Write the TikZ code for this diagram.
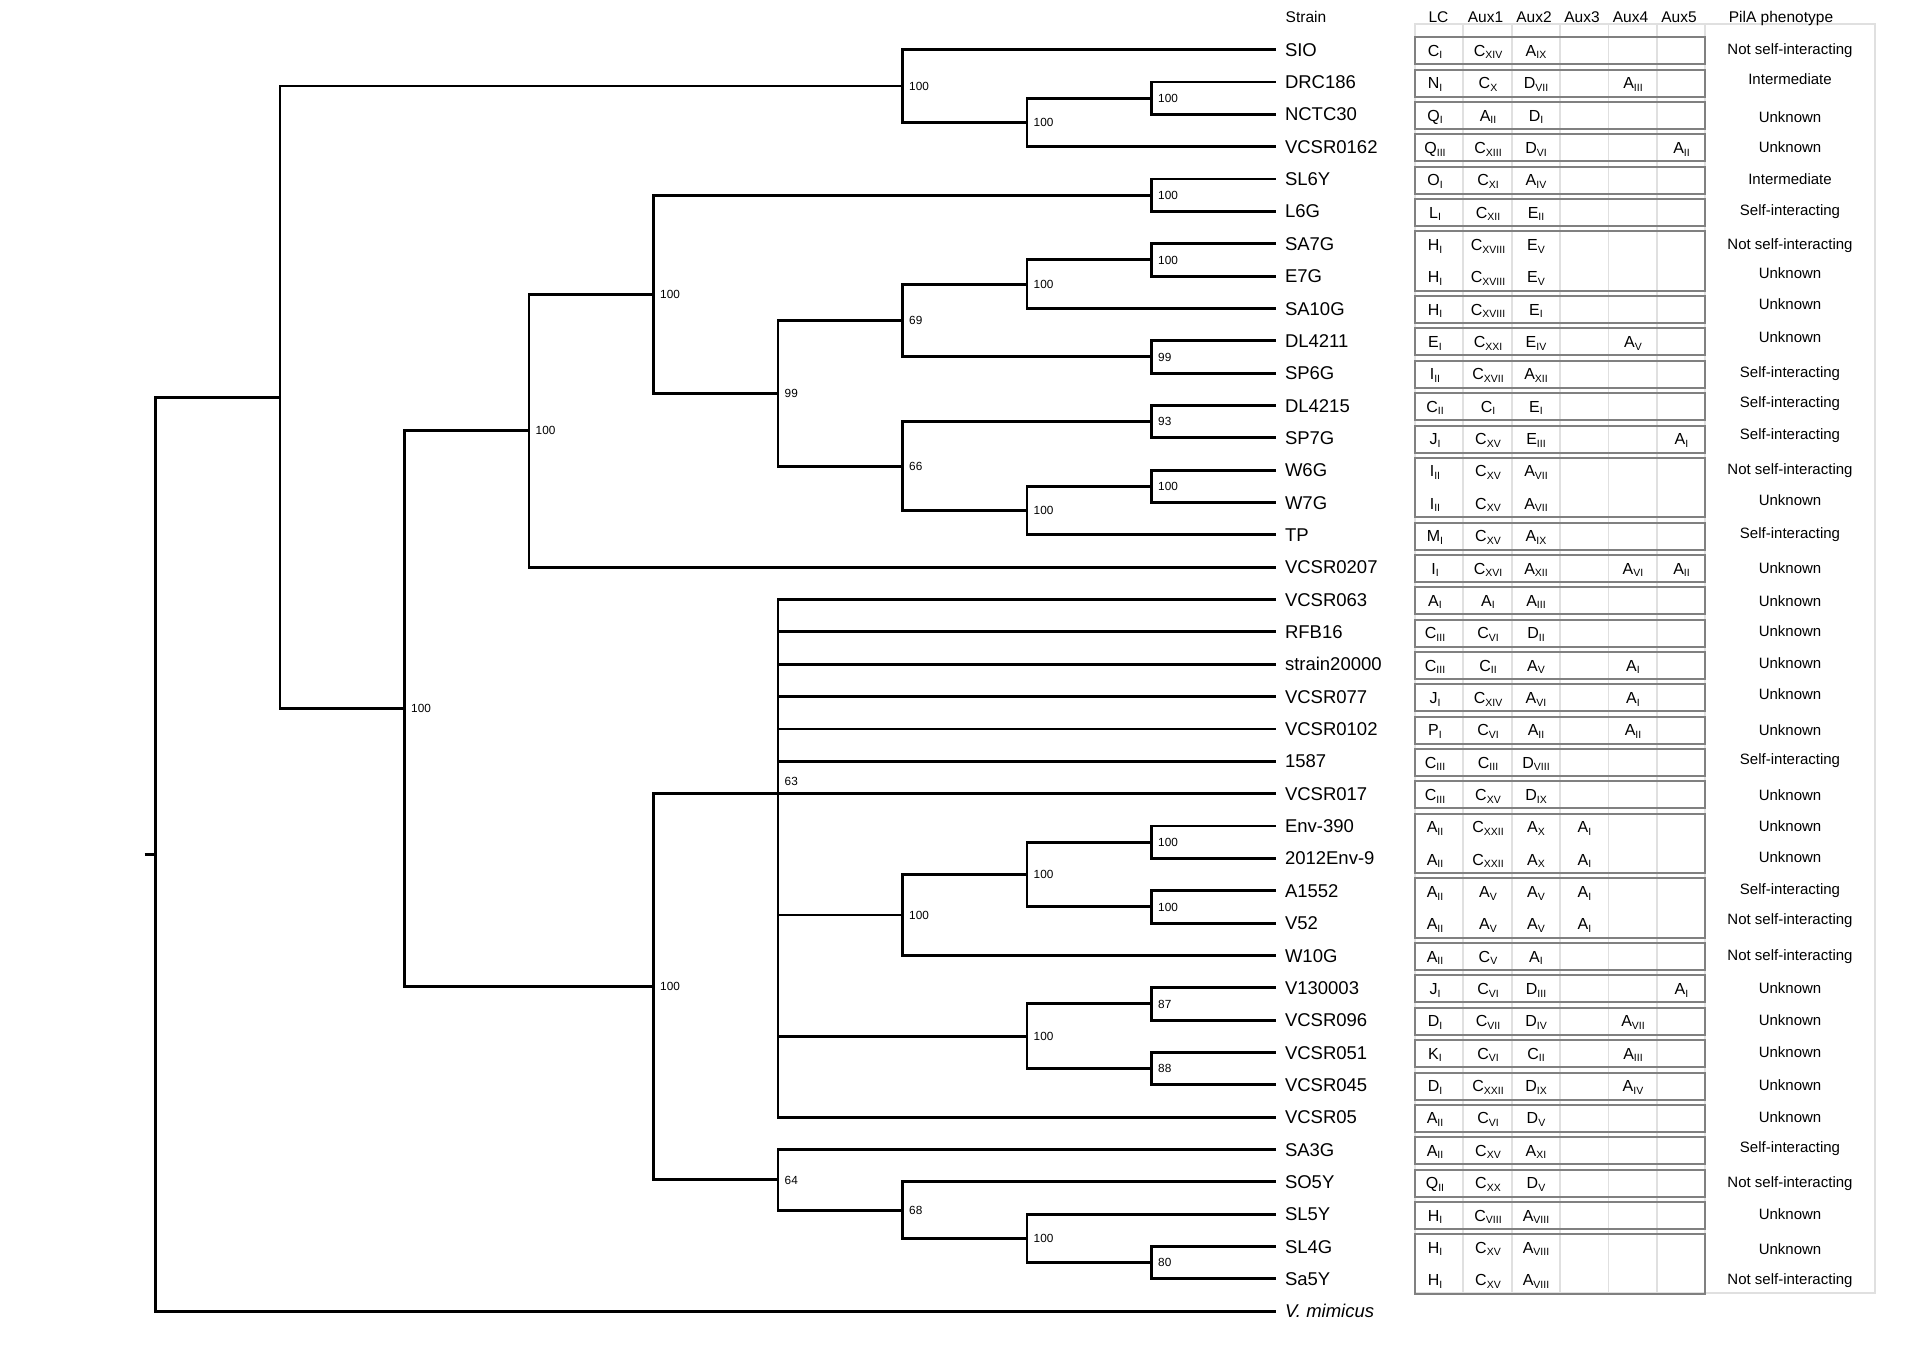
\documentclass[tikz,border=0pt]{standalone}
\usepackage{fontspec}
\setmainfont{Liberation Sans}
\newcommand\allele[2]{#1\raisebox{-2.6pt}{\fontsize{10.5}{10.5}\selectfont#2}}
\newcommand\onecell[4]{\if\relax\detokenize{#4}\relax\else\node[cell] (c#1-#2) at (#3,#1) {#4};\fi}
\newcommand\cells[7]{\onecell{#1}{1}{1435}{#2}\onecell{#1}{2}{1488}{#3}\onecell{#1}{3}{1536}{#4}\onecell{#1}{4}{1584.5}{#5}\onecell{#1}{5}{1633}{#6}\onecell{#1}{6}{1681.5}{#7}}
\newcommand\abox[2]{\draw[boxst] ([yshift=12.3pt]1415,#1) rectangle ([yshift=-14.7pt]1705,#2);}
\newcommand\pheno[3]{\node[phen,yshift=#2pt] (p#1) at (1790,#1) {#3};}
\begin{document}
\begin{tikzpicture}[x=1pt,y=-32.35pt,
  br/.style={line width=2.9pt,black},
  leaf/.style={anchor=west,font=\fontsize{18.5}{18.5}\selectfont,inner xsep=9pt,inner ysep=0pt,text height=13.2pt,text depth=0pt,outer sep=0pt},
  boot/.style={anchor=west,xshift=6.5pt,font=\fontsize{11.8}{11.8}\selectfont,inner sep=0pt,text height=8.5pt,text depth=0pt},
  cell/.style={font=\fontsize{16}{16}\selectfont,anchor=base,inner sep=0pt,yshift=-6.8pt},
  phen/.style={font=\fontsize{15}{15}\selectfont,inner sep=0pt,text height=10.7pt,text depth=0pt},
  hdr/.style={font=\fontsize{15.5}{15.5}\selectfont,inner sep=0pt,text height=11.1pt,text depth=0pt},
  boxst/.style={draw=black!50,line width=2pt},
  gridst/.style={draw=black!12,line width=1.4pt}]
\useasboundingbox (0,-0.53323) rectangle (1920,41.2597);

% ---------- table grid ----------
\draw[gridst] (1415,0.2087) rectangle (1875,39.436);
\foreach \x in {1463,1512,1560,1608.5,1657,1705}
  \draw[gridst] (\x,0.2087) -- (\x,39.436);

% ---------- headers ----------
\node[hdr,anchor=west] (hStrain) at (1285.5,-0.01) {Strain};
\node[hdr] (hLC) at (1438.5,-0.01) {LC};
\node[hdr] (hA1) at (1485.5,-0.01) {Aux1};
\node[hdr] (hA2) at (1534,-0.01) {Aux2};
\node[hdr] (hA3) at (1582,-0.01) {Aux3};
\node[hdr] (hA4) at (1630.5,-0.01) {Aux4};
\node[hdr] (hA5) at (1679,-0.01) {Aux5};
\node[hdr] (hPh) at (1781,-0.01) {PilA phenotype};

% ---------- leaves ----------
\node[leaf] (l1) at (1276,1) {SIO};
\node[leaf] (l2) at (1276,2) {DRC186};
\node[leaf] (l3) at (1276,3) {NCTC30};
\node[leaf] (l4) at (1276,4) {VCSR0162};
\node[leaf] (l5) at (1276,5) {SL6Y};
\node[leaf] (l6) at (1276,6) {L6G};
\node[leaf] (l7) at (1276,7) {SA7G};
\node[leaf] (l8) at (1276,8) {E7G};
\node[leaf] (l9) at (1276,9) {SA10G};
\node[leaf] (l10) at (1276,10) {DL4211};
\node[leaf] (l11) at (1276,11) {SP6G};
\node[leaf] (l12) at (1276,12) {DL4215};
\node[leaf] (l13) at (1276,13) {SP7G};
\node[leaf] (l14) at (1276,14) {W6G};
\node[leaf] (l15) at (1276,15) {W7G};
\node[leaf] (l16) at (1276,16) {TP};
\node[leaf] (l17) at (1276,17) {VCSR0207};
\node[leaf] (l18) at (1276,18) {VCSR063};
\node[leaf] (l19) at (1276,19) {RFB16};
\node[leaf] (l20) at (1276,20) {strain20000};
\node[leaf] (l21) at (1276,21) {VCSR077};
\node[leaf] (l22) at (1276,22) {VCSR0102};
\node[leaf] (l23) at (1276,23) {1587};
\node[leaf] (l24) at (1276,24) {VCSR017};
\node[leaf] (l25) at (1276,25) {Env-390};
\node[leaf] (l26) at (1276,26) {2012Env-9};
\node[leaf] (l27) at (1276,27) {A1552};
\node[leaf] (l28) at (1276,28) {V52};
\node[leaf] (l29) at (1276,29) {W10G};
\node[leaf] (l30) at (1276,30) {V130003};
\node[leaf] (l31) at (1276,31) {VCSR096};
\node[leaf] (l32) at (1276,32) {VCSR051};
\node[leaf] (l33) at (1276,33) {VCSR045};
\node[leaf] (l34) at (1276,34) {VCSR05};
\node[leaf] (l35) at (1276,35) {SA3G};
\node[leaf] (l36) at (1276,36) {SO5Y};
\node[leaf] (l37) at (1276,37) {SL5Y};
\node[leaf] (l38) at (1276,38) {SL4G};
\node[leaf] (l39) at (1276,39) {Sa5Y};
\node[leaf] (l40) at (1276,40) {\textit{V. mimicus}};

% ---------- internal nodes ----------
\coordinate (stub) at (144.5,25.875);
\coordinate (root) at (155.5,25.875);
\coordinate (nA) at (280,11.75);
\coordinate (nB) at (902.5,2.125);
\coordinate (nD) at (1027,3.25);
\coordinate (nE) at (1151.5,2.5);
\coordinate (nC) at (404.5,21.375);
\coordinate (nF) at (529,12.78125);
\coordinate (nH) at (653.5,8.5625);
\coordinate (nI) at (1151.5,5.5);
\coordinate (nJ) at (778,11.625);
\coordinate (nK) at (902.5,9.375);
\coordinate (nM) at (1027,8.25);
\coordinate (nO) at (1151.5,7.5);
\coordinate (nN) at (1151.5,10.5);
\coordinate (nL) at (902.5,13.875);
\coordinate (nP) at (1151.5,12.5);
\coordinate (nQ) at (1027,15.25);
\coordinate (nR) at (1151.5,14.5);
\coordinate (nG) at (653.5,29.96875);
\coordinate (nS) at (778,24);
\coordinate (nU) at (902.5,27.75);
\coordinate (nW) at (1027,26.5);
\coordinate (nX) at (1151.5,25.5);
\coordinate (nY) at (1151.5,27.5);
\coordinate (nV) at (1027,31.5);
\coordinate (nZ) at (1151.5,30.5);
\coordinate (nAA) at (1151.5,32.5);
\coordinate (nT) at (778,35.9375);
\coordinate (nAB) at (902.5,36.875);
\coordinate (nAC) at (1027,37.75);
\coordinate (nAD) at (1151.5,38.5);

% ---------- branches ----------
\draw[br] (stub) -- (root);
\foreach \p/\c in {root/nA, root/l40.west,
  nA/nB, nA/nC,
  nB/l1.west, nB/nD, nD/nE, nD/l4.west, nE/l2.west, nE/l3.west,
  nC/nF, nC/nG,
  nF/nH, nF/l17.west,
  nH/nI, nH/nJ, nI/l5.west, nI/l6.west,
  nJ/nK, nJ/nL,
  nK/nM, nK/nN, nM/nO, nM/l9.west, nO/l7.west, nO/l8.west, nN/l10.west, nN/l11.west,
  nL/nP, nL/nQ, nP/l12.west, nP/l13.west, nQ/nR, nQ/l16.west, nR/l14.west, nR/l15.west,
  nG/nS, nG/nT,
  nS/l18.west, nS/l19.west, nS/l20.west, nS/l21.west, nS/l22.west, nS/l23.west, nS/l24.west,
  nS/nU, nS/nV, nS/l34.west,
  nU/nW, nU/l29.west, nW/nX, nW/nY, nX/l25.west, nX/l26.west, nY/l27.west, nY/l28.west,
  nV/nZ, nV/nAA, nZ/l30.west, nZ/l31.west, nAA/l32.west, nAA/l33.west,
  nT/l35.west, nT/nAB, nAB/l36.west, nAB/nAC, nAC/l37.west, nAC/nAD, nAD/l38.west, nAD/l39.west}
  \draw[br] (\p) |- (\c);

% ---------- bootstrap values ----------
\foreach \n/\v in {nB/100, nD/100, nE/100, nC/100, nF/100, nH/100, nI/100, nJ/99,
  nK/69, nM/100, nO/100, nN/99, nL/66, nP/93, nQ/100, nR/100, nG/100,
  nU/100, nW/100, nX/100, nY/100, nV/100, nZ/87, nAA/88, nT/64, nAB/68, nAC/100, nAD/80}
  \node[boot] (b\n) at (\n) {\v};
\node[boot,yshift=12pt] (bnS) at (nS) {63};

% ---------- allele boxes ----------
\abox{1}{1}\abox{2}{2}\abox{3}{3}\abox{4}{4}\abox{5}{5}\abox{6}{6}
\abox{7}{8}\abox{9}{9}\abox{10}{10}\abox{11}{11}\abox{12}{12}\abox{13}{13}
\abox{14}{15}\abox{16}{16}\abox{17}{17}\abox{18}{18}\abox{19}{19}\abox{20}{20}
\abox{21}{21}\abox{22}{22}\abox{23}{23}\abox{24}{24}\abox{25}{26}\abox{27}{28}
\abox{29}{29}\abox{30}{30}\abox{31}{31}\abox{32}{32}\abox{33}{33}\abox{34}{34}
\abox{35}{35}\abox{36}{36}\abox{37}{37}\abox{38}{39}

% ---------- allele cells ----------
\cells{1}{\allele{C}{I}}{\allele{C}{XIV}}{\allele{A}{IX}}{}{}{}
\cells{2}{\allele{N}{I}}{\allele{C}{X}}{\allele{D}{VII}}{}{\allele{A}{III}}{}
\cells{3}{\allele{Q}{I}}{\allele{A}{II}}{\allele{D}{I}}{}{}{}
\cells{4}{\allele{Q}{III}}{\allele{C}{XIII}}{\allele{D}{VI}}{}{}{\allele{A}{II}}
\cells{5}{\allele{O}{I}}{\allele{C}{XI}}{\allele{A}{IV}}{}{}{}
\cells{6}{\allele{L}{I}}{\allele{C}{XII}}{\allele{E}{II}}{}{}{}
\cells{7}{\allele{H}{I}}{\allele{C}{XVIII}}{\allele{E}{V}}{}{}{}
\cells{8}{\allele{H}{I}}{\allele{C}{XVIII}}{\allele{E}{V}}{}{}{}
\cells{9}{\allele{H}{I}}{\allele{C}{XVIII}}{\allele{E}{I}}{}{}{}
\cells{10}{\allele{E}{I}}{\allele{C}{XXI}}{\allele{E}{IV}}{}{\allele{A}{V}}{}
\cells{11}{\allele{I}{II}}{\allele{C}{XVII}}{\allele{A}{XII}}{}{}{}
\cells{12}{\allele{C}{II}}{\allele{C}{I}}{\allele{E}{I}}{}{}{}
\cells{13}{\allele{J}{I}}{\allele{C}{XV}}{\allele{E}{III}}{}{}{\allele{A}{I}}
\cells{14}{\allele{I}{II}}{\allele{C}{XV}}{\allele{A}{VII}}{}{}{}
\cells{15}{\allele{I}{II}}{\allele{C}{XV}}{\allele{A}{VII}}{}{}{}
\cells{16}{\allele{M}{I}}{\allele{C}{XV}}{\allele{A}{IX}}{}{}{}
\cells{17}{\allele{I}{I}}{\allele{C}{XVI}}{\allele{A}{XII}}{}{\allele{A}{VI}}{\allele{A}{II}}
\cells{18}{\allele{A}{I}}{\allele{A}{I}}{\allele{A}{III}}{}{}{}
\cells{19}{\allele{C}{III}}{\allele{C}{VI}}{\allele{D}{II}}{}{}{}
\cells{20}{\allele{C}{III}}{\allele{C}{II}}{\allele{A}{V}}{}{\allele{A}{I}}{}
\cells{21}{\allele{J}{I}}{\allele{C}{XIV}}{\allele{A}{VI}}{}{\allele{A}{I}}{}
\cells{22}{\allele{P}{I}}{\allele{C}{VI}}{\allele{A}{II}}{}{\allele{A}{II}}{}
\cells{23}{\allele{C}{III}}{\allele{C}{III}}{\allele{D}{VIII}}{}{}{}
\cells{24}{\allele{C}{III}}{\allele{C}{XV}}{\allele{D}{IX}}{}{}{}
\cells{25}{\allele{A}{II}}{\allele{C}{XXII}}{\allele{A}{X}}{\allele{A}{I}}{}{}
\cells{26}{\allele{A}{II}}{\allele{C}{XXII}}{\allele{A}{X}}{\allele{A}{I}}{}{}
\cells{27}{\allele{A}{II}}{\allele{A}{V}}{\allele{A}{V}}{\allele{A}{I}}{}{}
\cells{28}{\allele{A}{II}}{\allele{A}{V}}{\allele{A}{V}}{\allele{A}{I}}{}{}
\cells{29}{\allele{A}{II}}{\allele{C}{V}}{\allele{A}{I}}{}{}{}
\cells{30}{\allele{J}{I}}{\allele{C}{VI}}{\allele{D}{III}}{}{}{\allele{A}{I}}
\cells{31}{\allele{D}{I}}{\allele{C}{VII}}{\allele{D}{IV}}{}{\allele{A}{VII}}{}
\cells{32}{\allele{K}{I}}{\allele{C}{VI}}{\allele{C}{II}}{}{\allele{A}{III}}{}
\cells{33}{\allele{D}{I}}{\allele{C}{XXII}}{\allele{D}{IX}}{}{\allele{A}{IV}}{}
\cells{34}{\allele{A}{II}}{\allele{C}{VI}}{\allele{D}{V}}{}{}{}
\cells{35}{\allele{A}{II}}{\allele{C}{XV}}{\allele{A}{XI}}{}{}{}
\cells{36}{\allele{Q}{II}}{\allele{C}{XX}}{\allele{D}{V}}{}{}{}
\cells{37}{\allele{H}{I}}{\allele{C}{VIII}}{\allele{A}{VIII}}{}{}{}
\cells{38}{\allele{H}{I}}{\allele{C}{XV}}{\allele{A}{VIII}}{}{}{}
\cells{39}{\allele{H}{I}}{\allele{C}{XV}}{\allele{A}{VIII}}{}{}{}

% ---------- phenotypes ----------
\pheno{1}{0}{Not self-interacting}
\pheno{2}{2.7}{Intermediate}
\pheno{3}{-2.7}{Unknown}
\pheno{4}{-0.7}{Unknown}
\pheno{5}{0}{Intermediate}
\pheno{6}{1.3}{Self-interacting}
\pheno{7}{0}{Not self-interacting}
\pheno{8}{2.7}{Unknown}
\pheno{9}{4}{Unknown}
\pheno{10}{4}{Unknown}
\pheno{11}{1}{Self-interacting}
\pheno{12}{3.3}{Self-interacting}
\pheno{13}{4}{Self-interacting}
\pheno{14}{0.7}{Not self-interacting}
\pheno{15}{2.7}{Unknown}
\pheno{16}{1.7}{Self-interacting}
\pheno{17}{-1}{Unknown}
\pheno{18}{-1.3}{Unknown}
\pheno{19}{1}{Unknown}
\pheno{20}{1}{Unknown}
\pheno{21}{2.7}{Unknown}
\pheno{22}{-1.3}{Unknown}
\pheno{23}{1.7}{Self-interacting}
\pheno{24}{-1.7}{Unknown}
\pheno{25}{0}{Unknown}
\pheno{26}{1}{Unknown}
\pheno{27}{1.7}{Self-interacting}
\pheno{28}{4}{Not self-interacting}
\pheno{29}{0.7}{Not self-interacting}
\pheno{30}{0}{Unknown}
\pheno{31}{0}{Unknown}
\pheno{32}{0}{Unknown}
\pheno{33}{-0.7}{Unknown}
\pheno{34}{0}{Unknown}
\pheno{35}{2.3}{Self-interacting}
\pheno{36}{0}{Not self-interacting}
\pheno{37}{0}{Unknown}
\pheno{38}{-2.7}{Unknown}
\pheno{39}{0}{Not self-interacting}
\end{tikzpicture}
\end{document}
